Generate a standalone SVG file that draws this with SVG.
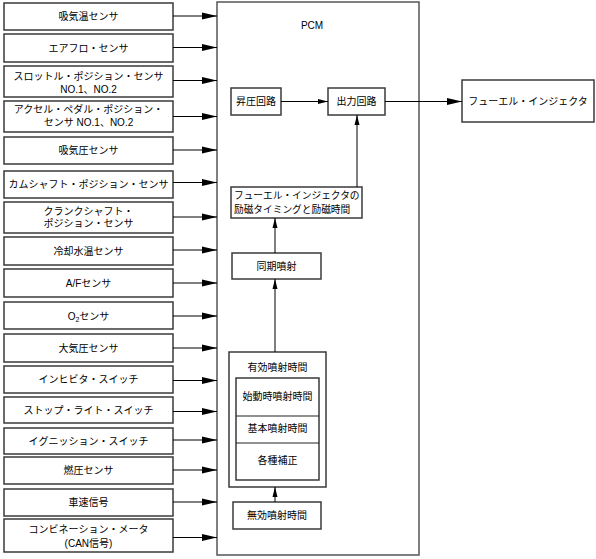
<svg xmlns="http://www.w3.org/2000/svg" width="596" height="559" viewBox="0 0 596 559">
<defs>
<marker id="big" markerWidth="15" markerHeight="8" refX="15" refY="4" orient="auto" markerUnits="userSpaceOnUse"><path d="M0,0.5 L15,4 L0,7.5 z" fill="#000"/></marker>
<marker id="small" markerWidth="10" markerHeight="6" refX="10" refY="3" orient="auto" markerUnits="userSpaceOnUse"><path d="M0,0.5 L10,3 L0,5.5 z" fill="#000"/></marker>
</defs>
<style>
.box{fill:#fff;stroke:#3a3a3a;stroke-width:1.5}
.pcm{fill:#fff;stroke:#555;stroke-width:1.5}
.t{font-family:"Liberation Sans","Noto Sans CJK JP",sans-serif;font-size:10px;fill:#000;text-anchor:middle;dominant-baseline:central}
.l{text-anchor:start;font-size:9.7px}
.c{stroke:#000;stroke-width:1;fill:none}
.cb{marker-end:url(#big)}
.cs{marker-end:url(#small)}
</style>
<g id="pcm"><rect class="pcm" x="217" y="2" width="202" height="553"/><text class="t" x="312" y="25">PCM</text></g>
<g id="s1"><rect class="box" x="4" y="3" width="169" height="27"/><text class="t" x="88.5" y="16.5">吸気温センサ</text></g>
<g id="s2"><rect class="box" x="4" y="34" width="169" height="28"/><text class="t" x="88.5" y="48">エアフロ・センサ</text></g>
<g id="s3"><rect class="box" x="4" y="66" width="169" height="31"/><text class="t" x="88.5" y="76">スロットル・ポジション・センサ</text><text class="t" x="88.5" y="89">NO.1、NO.2</text></g>
<g id="s4"><rect class="box" x="4" y="101" width="169" height="31"/><text class="t" x="88.5" y="109">アクセル・ペダル・ポジション・</text><text class="t" x="88.5" y="122">センサ NO.1、NO.2</text></g>
<g id="s5"><rect class="box" x="4" y="137" width="169" height="27"/><text class="t" x="88.5" y="150.5">吸気圧センサ</text></g>
<g id="s6"><rect class="box" x="4" y="171" width="169" height="27"/><text class="t" x="88.5" y="184">カムシャフト・ポジション・センサ</text></g>
<g id="s7"><rect class="box" x="4" y="202" width="169" height="31"/><text class="t" x="88.5" y="211">クランクシャフト・</text><text class="t" x="88.5" y="223.5">ポジション・センサ</text></g>
<g id="s8"><rect class="box" x="4" y="237" width="169" height="28"/><text class="t" x="88.5" y="251">冷却水温センサ</text></g>
<g id="s9"><rect class="box" x="4" y="269" width="169" height="28"/><text class="t" x="88.5" y="283">A/Fセンサ</text></g>
<g id="s10"><rect class="box" x="4" y="302" width="169" height="27"/><text class="t" x="88.5" y="316">O<tspan font-size="7" dy="2.5">2</tspan><tspan dy="-2.5">センサ</tspan></text></g>
<g id="s11"><rect class="box" x="4" y="334" width="169" height="28"/><text class="t" x="88.5" y="348">大気圧センサ</text></g>
<g id="s12"><rect class="box" x="4" y="366" width="169" height="27"/><text class="t" x="88.5" y="379.5">インヒビタ・スイッチ</text></g>
<g id="s13"><rect class="box" x="4" y="397" width="169" height="26"/><text class="t" x="88.5" y="410">ストップ・ライト・スイッチ</text></g>
<g id="s14"><rect class="box" x="4" y="428" width="169" height="26"/><text class="t" x="88.5" y="441">イグニッション・スイッチ</text></g>
<g id="s15"><rect class="box" x="4" y="457" width="169" height="27"/><text class="t" x="88.5" y="470.5">燃圧センサ</text></g>
<g id="s16"><rect class="box" x="4" y="489" width="169" height="27"/><text class="t" x="88.5" y="502.5">車速信号</text></g>
<g id="s17"><rect class="box" x="4" y="519" width="169" height="33"/><text class="t" x="88.5" y="529">コンビネーション・メータ</text><text class="t" x="88.5" y="543">(CAN信号)</text></g>
<g id="boost"><rect class="box" x="231" y="88" width="50" height="27"/><text class="t" x="256" y="101.5">昇圧回路</text></g>
<g id="out"><rect class="box" x="328" y="88" width="57" height="27"/><text class="t" x="356.5" y="101.5">出力回路</text></g>
<g id="inj"><rect class="box" x="462" y="80" width="132" height="42"/><text class="t" x="528" y="101.5">フューエル・インジェクタ</text></g>
<g id="timing"><rect class="box" x="231" y="187" width="131" height="31"/><text class="t l" x="234" y="195">フューエル・インジェクタの</text><text class="t l" x="234" y="209.5">励磁タイミングと励磁時間</text></g>
<g id="sync"><rect class="box" x="232" y="253" width="89" height="26"/><text class="t" x="276.5" y="266">同期噴射</text></g>
<g id="eff"><rect class="box" x="229" y="352" width="97" height="135"/><text class="t" x="277.5" y="367">有効噴射時間</text>
<rect class="box" x="236" y="378" width="83" height="102"/>
<line x1="236" y1="416" x2="319" y2="416" stroke="#222" stroke-width="1"/>
<line x1="236" y1="443" x2="319" y2="443" stroke="#222" stroke-width="1"/>
<text class="t" x="277.5" y="396">始動時噴射時間</text><text class="t" x="277.5" y="428.5">基本噴射時間</text><text class="t" x="277.5" y="460">各種補正</text></g>
<g id="inval"><rect class="box" x="233" y="502" width="88" height="27"/><text class="t" x="277" y="515.5">無効噴射時間</text></g>
<g id="connectors">
<line class="c cb" x1="173" y1="16" x2="217" y2="16"/>
<line class="c cb" x1="173" y1="47.5" x2="217" y2="47.5"/>
<line class="c cb" x1="173" y1="80.5" x2="217" y2="80.5"/>
<line class="c cb" x1="173" y1="116.5" x2="217" y2="116.5"/>
<line class="c cb" x1="173" y1="150" x2="217" y2="150"/>
<line class="c cb" x1="173" y1="182.5" x2="217" y2="182.5"/>
<line class="c cb" x1="173" y1="217" x2="217" y2="217"/>
<line class="c cb" x1="173" y1="250" x2="217" y2="250"/>
<line class="c cb" x1="173" y1="283" x2="217" y2="283"/>
<line class="c cb" x1="173" y1="316" x2="217" y2="316"/>
<line class="c cb" x1="173" y1="348" x2="217" y2="348"/>
<line class="c cb" x1="173" y1="380.5" x2="217" y2="380.5"/>
<line class="c cb" x1="173" y1="411.5" x2="217" y2="411.5"/>
<line class="c cb" x1="173" y1="440" x2="217" y2="440"/>
<line class="c cb" x1="173" y1="470" x2="217" y2="470"/>
<line class="c cb" x1="173" y1="502" x2="217" y2="502"/>
<line class="c cb" x1="173" y1="537.5" x2="217" y2="537.5"/>
<line class="c cs" x1="281" y1="101.5" x2="328" y2="101.5"/>
<line class="c cb" x1="385" y1="101.5" x2="462" y2="101.5" stroke-width="1.3"/>
<line class="c cs" x1="357" y1="187" x2="357" y2="115"/>
<line class="c cs" x1="275" y1="253" x2="275" y2="218"/>
<line class="c cs" x1="275" y1="352" x2="275" y2="279"/>
<line class="c cs" x1="275" y1="502" x2="275" y2="487"/>
</g>
</svg>
